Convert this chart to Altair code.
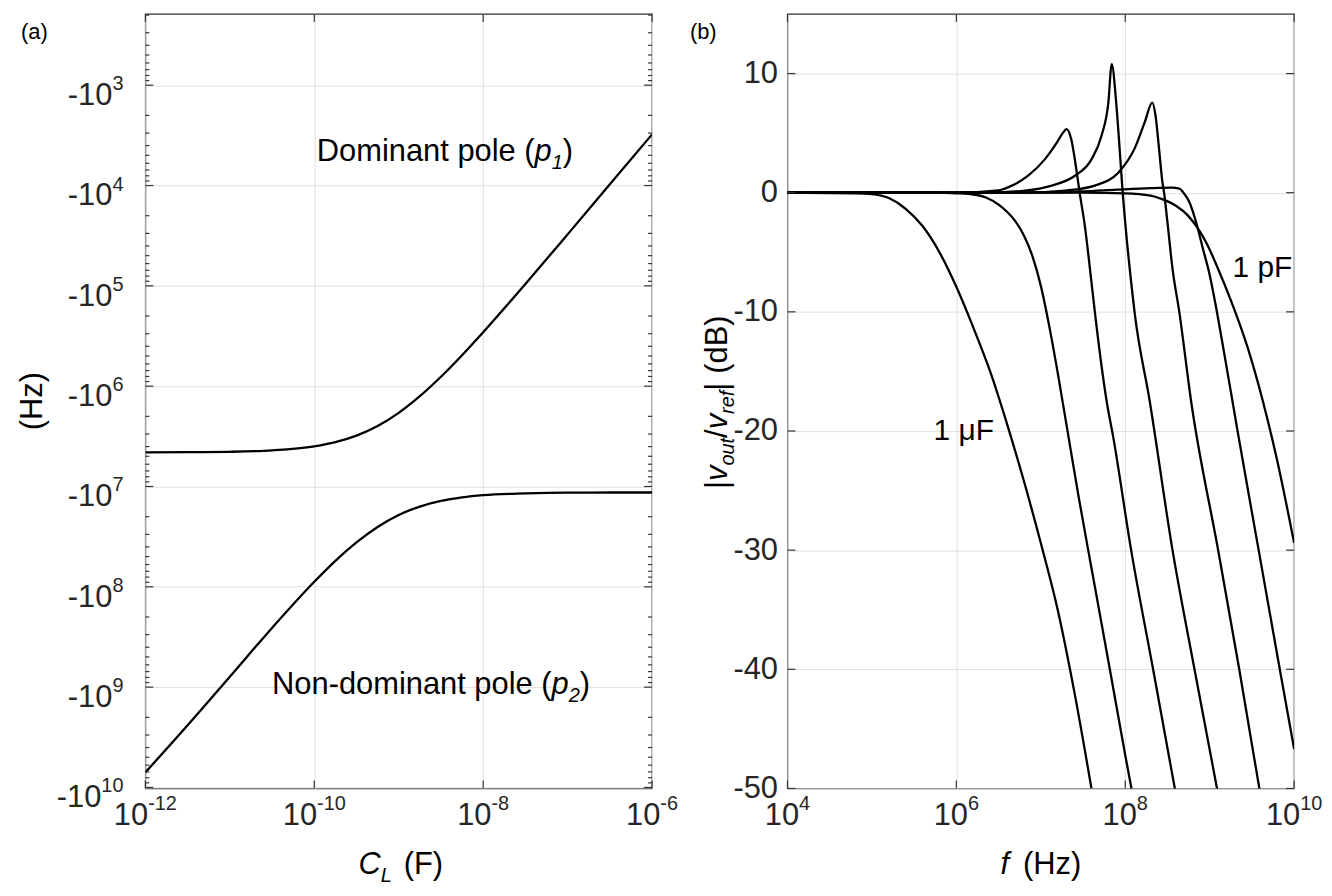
import altair as alt
import pandas as pd

FONT = "Liberation Sans"
TXT = "#000000"
LAB = "#262626"
FRAME = "#333333"
GRID = "#e0e0e0"

W, H = 509, 778
GAP = 136
TICK_FS = 31
EXP_FS = 20
TITLE_FS = 31
TSUB_FS = 20
ANN_FS = 31
LBL_FS = 30
SUB_FS = 20

# ---------------- Panel (a): pole locations vs C_L (log10 values)
cl_log10 = [-12, -11.5, -11, -10.5, -10, -9.75, -9.5, -9.25, -9, -8.75, -8.5, -8.25, -8, -7.5, -7, -6.5, -6]
p1_log10 = [6.66, 6.658, 6.654, 6.64, 6.60, 6.558, 6.493, 6.397, 6.266, 6.10, 5.906, 5.691, 5.462, 4.981, 4.487, 3.988, 3.49]
p2_log10 = [9.85, 9.38, 8.896, 8.41, 7.95, 7.741, 7.557, 7.403, 7.284, 7.20, 7.144, 7.109, 7.087, 7.069, 7.061, 7.06, 7.06]

xa_major = [1e-12, 1e-10, 1e-8, 1e-6]
xa_exp = ["-12", "-10", "-8", "-6"]
ya_major = [1e3, 1e4, 1e5, 1e6, 1e7, 1e8, 1e9, 1e10]
ya_exp = ["3", "4", "5", "6", "7", "8", "9", "10"]

# ---------------- Panel (b): |vout/vref| in dB vs log10 f, one list pair per C_L
c1_lf = [4.0, 4.8, 5.0, 5.2, 5.4, 5.6, 5.8, 6.0, 6.2, 6.4, 6.6, 6.8, 7.0, 7.2, 7.4, 7.6]
c1_db = [0.0, -0.05, -0.12, -0.45, -1.35, -2.8, -5.0, -7.9, -11.3, -15.0, -19.4, -24.2, -29.4, -35.0, -42.0, -50.0]
c2_lf = [4.0, 5.8, 6.0, 6.2, 6.35, 6.5, 6.6, 6.7, 6.8, 6.9, 7.0, 7.1, 7.2, 7.3, 7.45, 7.6, 7.8, 8.0, 8.1]
c2_db = [0.0, 0.0, -0.05, -0.15, -0.4, -1.0, -1.6, -2.4, -3.6, -5.3, -7.8, -11.2, -15.1, -19.3, -25.6, -31.5, -39.3, -47.2, -51.0]
c3_lf = [4.0, 6.0, 6.5, 6.66, 6.85, 7.05, 7.19, 7.26, 7.305, 7.36, 7.42, 7.46, 7.52, 7.60, 7.64, 7.78, 7.86, 8.07, 8.33, 8.6]
c3_db = [0.0, 0.0, 0.2, 0.6, 1.43, 2.82, 4.2, 5.0, 5.33, 4.5, 2.0, 0.0, -2.7, -7.5, -10.0, -17.5, -20.6, -30.0, -40.0, -50.5]
c4_lf = [4.0, 6.3, 6.81, 7.13, 7.40, 7.60, 7.72, 7.80, 7.84, 7.89, 7.92, 7.95, 7.97, 8.01, 8.07, 8.11, 8.29, 8.56, 8.82, 9.1]
c4_db = [0.0, 0.0, 0.18, 0.6, 1.4, 2.8, 4.8, 7.56, 10.8, 7.8, 5.05, 2.0, 0.0, -3.3, -7.5, -10.0, -17.5, -30.0, -40.0, -50.5]
c5_lf = [4.0, 6.8, 7.29, 7.64, 7.92, 8.11, 8.23, 8.32, 8.36, 8.40, 8.44, 8.46, 8.50, 8.56, 8.64, 8.78, 9.10, 9.35, 9.6]
c5_db = [0.0, 0.0, 0.18, 0.6, 1.7, 3.7, 5.9, 7.56, 6.4, 3.7, 0.9, 0.0, -2.5, -6.4, -10.0, -17.5, -30.0, -40.0, -50.5]
c6_lf = [4.0, 7.0, 7.5, 7.9, 8.3, 8.55, 8.64, 8.70, 8.76, 8.84, 8.92, 9.00, 9.07, 9.17, 9.27, 9.33, 9.58, 9.83, 10.0]
c6_db = [0.0, 0.02, 0.1, 0.25, 0.38, 0.42, 0.35, -0.1, -0.8, -2.5, -4.7, -6.9, -9.4, -13.4, -17.5, -20.0, -30.0, -40.0, -46.7]
c7_lf = [4.0, 7.5, 8.0, 8.3, 8.42, 8.6, 8.74, 8.86, 8.96, 9.1, 9.26, 9.45, 9.63, 9.8, 10.0]
c7_db = [0.0, 0.0, -0.05, -0.25, -0.5, -1.1, -1.9, -3.0, -4.2, -6.4, -9.2, -13.0, -17.5, -22.5, -29.4]
curve_names = ["1 uF", "100 nF", "10 nF", "1 nF", "100 pF", "10 pF", "1 pF"]

xb_major = [1e4, 1e6, 1e8, 1e10]
xb_exp = ["4", "6", "8", "10"]
yb_major = [-50, -40, -30, -20, -10, 0, 10]

# ---------------- helpers
AW = {" ": 278, "(": 333, ")": 333, "|": 260, "/": 278, "-": 333,
      "0": 556, "1": 556, "2": 556, "3": 556, "4": 556, "5": 556, "6": 556, "7": 556, "8": 556, "9": 556,
      "C": 722, "D": 722, "F": 611, "H": 722, "L": 556, "N": 722, "B": 667,
      "a": 556, "b": 556, "d": 556, "e": 556, "f": 278, "i": 222, "l": 222, "m": 833, "n": 556,
      "o": 556, "p": 556, "r": 333, "t": 278, "u": 556, "v": 500, "z": 500, "μ": 577}


def tw(s, size):
    return sum(AW.get(c, 556) for c in s) * size / 1000.0


ONE = pd.DataFrame({"k": [0]})


def rich(pieces, x_enc, y_enc, data=ONE, angle=0, start=0.0):
    """pieces: (text, size, italic, dy, gap_before) drawn left to right from one anchor."""
    out = []
    off = start
    for text, size, italic, shift, gap in pieces:
        off += gap
        out.append(
            alt.Chart(data).mark_text(
                text=text, font=FONT, fontSize=size,
                fontStyle="italic" if italic else "normal",
                align="left", baseline="alphabetic", angle=angle,
                dx=off, dy=shift, color=TXT,
            ).encode(x=x_enc, y=y_enc)
        )
        off += tw(text, size)
    return out


def rich_len(pieces):
    return sum(tw(t, s) + g for t, s, _, _, g in pieces)


def inner_ticks(vals, channel, enc_fn, length):
    df = pd.DataFrame({"v": vals})
    base = alt.Chart(df).mark_rule(color=FRAME, strokeWidth=1.2)
    e = enc_fn("v")
    if channel == "y":
        return [base.encode(y=e, x=alt.value(0), x2=alt.value(length)),
                base.encode(y=e, x=alt.value(W), x2=alt.value(W - length))]
    return [base.encode(x=e, y=alt.value(H), y2=alt.value(H - length)),
            base.encode(x=e, y=alt.value(0), y2=alt.value(length))]


def x_pow_labels(vals, exps, enc_fn, base_dy=37, exp_dy=22):
    out = []
    groups = {}
    for v, e in zip(vals, exps):
        groups.setdefault(round(tw(e, EXP_FS), 2), []).append((v, e))
    wb = tw("10", TICK_FS)
    for we, items in groups.items():
        df = pd.DataFrame({"v": [i[0] for i in items], "e": [i[1] for i in items]})
        j = (wb - we) / 2.0
        xe = enc_fn("v")
        out.append(alt.Chart(df).mark_text(text="10", font=FONT, fontSize=TICK_FS, align="right",
                                           baseline="alphabetic", dx=j, color=LAB)
                   .encode(x=xe, y=alt.value(H + base_dy)))
        out.append(alt.Chart(df).mark_text(font=FONT, fontSize=EXP_FS, align="left",
                                           baseline="alphabetic", dx=j, color=LAB)
                   .encode(x=xe, y=alt.value(H + exp_dy), text="e:N"))
    return out


def y_negpow_labels(vals, exps, enc_fn, gap=22, base_dy=20, exp_dy=5):
    out = []
    groups = {}
    for v, e in zip(vals, exps):
        groups.setdefault(round(tw(e, EXP_FS), 2), []).append((v, e))
    for we, items in groups.items():
        df = pd.DataFrame({"v": [i[0] for i in items], "e": [i[1] for i in items]})
        ye = enc_fn("v")
        out.append(alt.Chart(df).mark_text(text="-10", font=FONT, fontSize=TICK_FS, align="right",
                                           baseline="alphabetic", dy=base_dy, color=LAB)
                   .encode(y=ye, x=alt.value(-gap - we)))
        out.append(alt.Chart(df).mark_text(font=FONT, fontSize=EXP_FS, align="right",
                                           baseline="alphabetic", dy=exp_dy, color=LAB)
                   .encode(y=ye, x=alt.value(-gap), text="e:N"))
    return out


# ---------------- Panel (a)
xa = alt.Scale(type="log", domain=[1e-12, 1e-6], nice=False)
ya = alt.Scale(type="log", domain=[10 ** 2.29, 10 ** 10.01], reverse=True, nice=False)
xa_axis = alt.Axis(values=xa_major, grid=True, ticks=False, labels=False, domain=False, title=None)
ya_axis = alt.Axis(values=ya_major, grid=True, ticks=False, labels=False, domain=False, title=None)


def XA(f):
    return alt.X(f"{f}:Q", scale=xa, axis=xa_axis)


def YA(f):
    return alt.Y(f"{f}:Q", scale=ya, axis=ya_axis)


rows = []
for c, a, b in zip(cl_log10, p1_log10, p2_log10):
    rows.append({"C": 10 ** c, "mag": 10 ** a, "pole": "p1"})
    rows.append({"C": 10 ** c, "mag": 10 ** b, "pole": "p2"})
df_a = pd.DataFrame(rows)

lines_a = alt.Chart(df_a).mark_line(color="black", strokeWidth=2.3, interpolate="monotone", clip=True).encode(
    x=XA("C"), y=YA("mag"), detail="pole:N")

ya_minor = [k * 10 ** n for n in range(2, 10) for k in range(2, 10) if k * 10 ** n >= 10 ** 2.29]

layers_a = [lines_a]
layers_a += inner_ticks(ya_major, "y", YA, 8)
layers_a += inner_ticks(ya_minor, "y", YA, 4)
layers_a += inner_ticks(xa_major, "x", XA, 8)
layers_a += x_pow_labels(xa_major, xa_exp, XA)
layers_a += y_negpow_labels(ya_major, ya_exp, YA)

ann1 = pd.DataFrame({"C": [10 ** -9.97], "mag": [10 ** 3.65]})
ann2 = pd.DataFrame({"C": [10 ** -10.50], "mag": [10 ** 8.96]})
layers_a += rich([("Dominant pole (", ANN_FS, False, 11, 0), ("p", ANN_FS, True, 11, 0),
                  ("1", SUB_FS, True, 19, 0), (")", ANN_FS, False, 11, 0)], XA("C"), YA("mag"), data=ann1)
layers_a += rich([("Non-dominant pole (", ANN_FS, False, 11, 0), ("p", ANN_FS, True, 11, 0),
                  ("2", SUB_FS, True, 19, 0), (")", ANN_FS, False, 11, 0)], XA("C"), YA("mag"), data=ann2)

layers_a.append(alt.Chart(ONE).mark_text(text="(Hz)", font=FONT, fontSize=TITLE_FS, angle=270,
                                         align="center", baseline="middle", color=TXT)
                .encode(x=alt.value(-113), y=alt.value(389)))
layers_a += rich([("C", TITLE_FS, True, 0, 0), ("L", TSUB_FS, True, 8, 0), ("(F)", TITLE_FS, False, 0, 12)],
                 alt.value(214), alt.value(H + 86))
layers_a.append(alt.Chart(ONE).mark_text(text="(a)", font=FONT, fontSize=22, align="left",
                                         baseline="alphabetic", color=TXT)
                .encode(x=alt.value(-125), y=alt.value(25)))

panel_a = alt.layer(*layers_a).properties(width=W, height=H)

# ---------------- Panel (b)
xb = alt.Scale(type="log", domain=[1e4, 1e10], nice=False)
yb = alt.Scale(domain=[-50, 15], nice=False, zero=False)
xb_axis = alt.Axis(values=xb_major, grid=True, ticks=False, labels=False, domain=False, title=None)
yb_axis = alt.Axis(values=yb_major, grid=True, ticks=False, domain=False, title=None,
                   labelExpr="'' + datum.value", labelFont=FONT, labelFontSize=TICK_FS,
                   labelColor=LAB, labelPadding=10)


def XB(f):
    return alt.X(f"{f}:Q", scale=xb, axis=xb_axis)


def YB(f):
    return alt.Y(f"{f}:Q", scale=yb, axis=yb_axis)


rows = []
all_curves = [(c1_lf, c1_db), (c2_lf, c2_db), (c3_lf, c3_db), (c4_lf, c4_db),
              (c5_lf, c5_db), (c6_lf, c6_db), (c7_lf, c7_db)]
for name, (lfs, dbs) in zip(curve_names, all_curves):
    for i, (lf, db) in enumerate(zip(lfs, dbs)):
        rows.append({"f": 10 ** lf, "db": db, "curve": name, "i": i})
df_b = pd.DataFrame(rows)

lines_b = alt.Chart(df_b).mark_line(color="black", strokeWidth=2.3, interpolate="monotone", clip=True).encode(
    x=XB("f"), y=YB("db"), detail="curve:N", order="i:Q")

layers_b = [lines_b]
layers_b += inner_ticks(yb_major, "y", YB, 8)
layers_b += inner_ticks(xb_major, "x", XB, 8)
layers_b += x_pow_labels(xb_major, xb_exp, XB)

lab_pf = pd.DataFrame({"f": [10 ** 9.27], "db": [-6.3]})
lab_uf = pd.DataFrame({"f": [10 ** 5.73], "db": [-20.0]})
layers_b.append(alt.Chart(lab_pf).mark_text(text="1 pF", font=FONT, fontSize=LBL_FS, align="left",
                                            baseline="middle", color=TXT).encode(x=XB("f"), y=YB("db")))
layers_b.append(alt.Chart(lab_uf).mark_text(text="1 μF", font=FONT, fontSize=LBL_FS, align="left",
                                            baseline="middle", color=TXT).encode(x=XB("f"), y=YB("db")))

ylab_pieces = [("|", TITLE_FS, False, 0, 0), ("v", TITLE_FS, True, 0, 0), ("out", TSUB_FS, True, 7, 0),
               ("/", TITLE_FS, False, 0, 0), ("v", TITLE_FS, True, 0, 0), ("ref", TSUB_FS, True, 7, 0),
               ("|", TITLE_FS, False, 0, 0), ("(dB)", TITLE_FS, False, 0, 9)]
layers_b += rich(ylab_pieces, alt.value(-61), alt.value(390 + rich_len(ylab_pieces) / 2.0), angle=270)
layers_b += rich([("f", TITLE_FS, True, 0, 0), ("(Hz)", TITLE_FS, False, 0, 14)],
                 alt.value(214), alt.value(H + 86))
layers_b.append(alt.Chart(ONE).mark_text(text="(b)", font=FONT, fontSize=22, align="left",
                                         baseline="alphabetic", color=TXT)
                .encode(x=alt.value(-98), y=alt.value(25)))

panel_b = alt.layer(*layers_b).properties(width=W, height=H)

chart = alt.hconcat(panel_a, panel_b, spacing=GAP, bounds="flush").properties(
    padding={"left": 8, "top": 2, "right": 0, "bottom": 0}
).configure_view(stroke=FRAME, strokeWidth=1.3).configure_axis(gridColor=GRID, gridWidth=1, gridOpacity=1)

chart.save("out.html", embed_options={"renderer": "svg", "actions": False})
